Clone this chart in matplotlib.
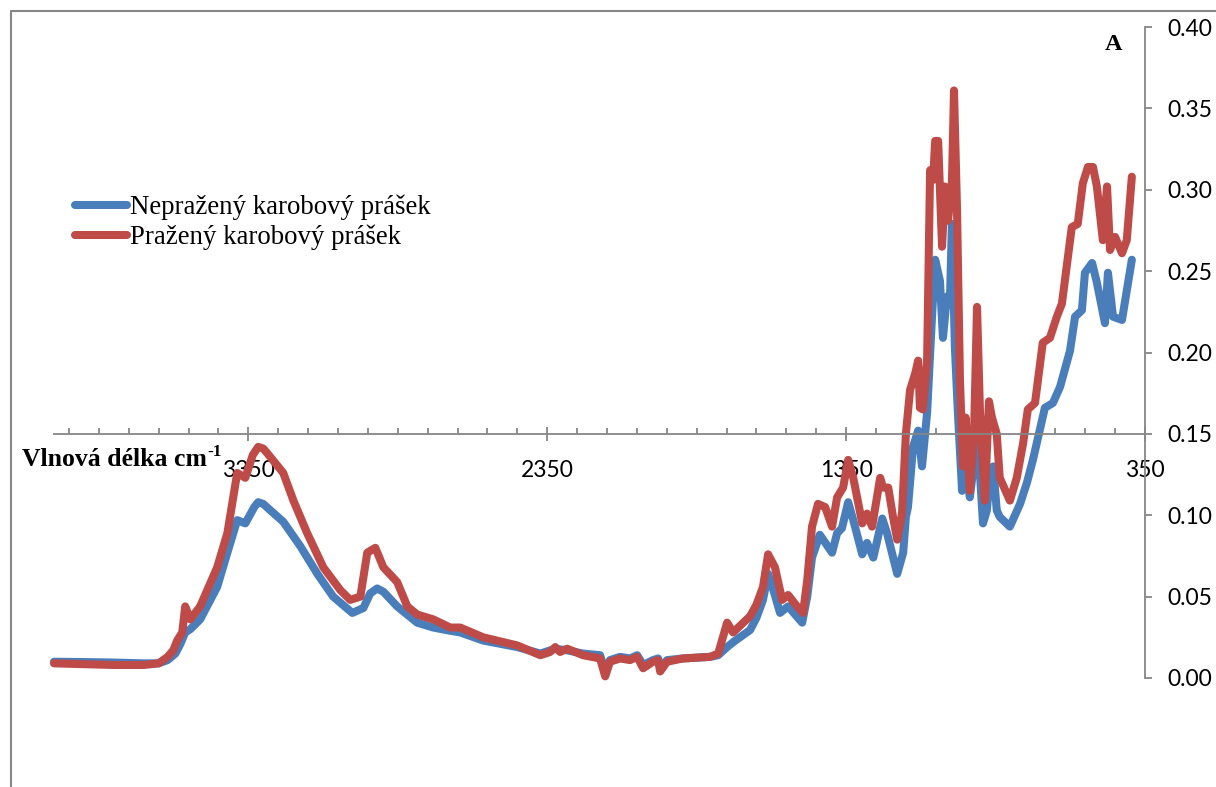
import matplotlib
matplotlib.use("Agg")
import matplotlib.pyplot as plt
import numpy as np
from matplotlib.lines import Line2D
from matplotlib.ticker import FixedLocator, FormatStrFormatter

# FTIR spectra (wavenumber cm-1, absorbance)
wn_raw = [4000, 3900, 3800, 3700, 3650, 3620, 3594, 3577, 3561, 3544, 3511, 3454,
          3420, 3387, 3360, 3330, 3317, 3300, 3276, 3233, 3176, 3119, 3066, 3002, 2965, 2942,
          2919, 2898, 2852, 2785, 2731, 2674, 2641, 2564, 2450, 2373, 2323, 2283,
          2230, 2173, 2156, 2140, 2106, 2073, 2049, 2029, 1996, 1979, 1972, 1949,
          1896, 1805, 1778, 1748, 1728, 1671, 1650, 1628, 1611, 1590, 1571, 1544,
          1497, 1480, 1464, 1438, 1397, 1380, 1364, 1343, 1326, 1296, 1280, 1259,
          1229, 1213, 1179, 1159, 1150, 1143, 1126, 1109, 1096, 1079, 1062, 1052,
          1036, 1026, 1013, 1002, 996, 986, 976, 962, 952, 936, 926, 912, 902,
          892, 879, 869, 858, 846, 836, 802, 768, 745, 725, 685, 658, 634, 601,
          584, 561, 551, 527, 511, 484, 474, 457, 427, 411, 394]
a_raw = [0.010, 0.0098, 0.0095, 0.009, 0.009, 0.011, 0.015, 0.021, 0.028, 0.030, 0.036, 0.056,
         0.077, 0.097, 0.095, 0.105, 0.108, 0.107, 0.103, 0.096, 0.081, 0.064, 0.050, 0.040, 0.043, 0.052,
         0.055, 0.053, 0.044, 0.034, 0.031, 0.029, 0.028, 0.023, 0.019, 0.015, 0.018, 0.017,
         0.015, 0.014, 0.004, 0.011, 0.013, 0.012, 0.014, 0.008, 0.011, 0.012, 0.006, 0.011,
         0.012, 0.013, 0.014, 0.019, 0.022, 0.0295, 0.037, 0.048, 0.064, 0.052, 0.040, 0.044,
         0.034, 0.050, 0.074, 0.088, 0.077, 0.089, 0.092, 0.108, 0.097, 0.076, 0.083, 0.074,
         0.098, 0.089, 0.064, 0.077, 0.099, 0.105, 0.142, 0.152, 0.130, 0.163, 0.224, 0.257,
         0.244, 0.209, 0.234, 0.236, 0.279, 0.203, 0.163, 0.115, 0.134, 0.111, 0.126, 0.180, 0.125,
         0.095, 0.103, 0.125, 0.130, 0.103, 0.099, 0.093, 0.107, 0.120, 0.134, 0.166, 0.169, 0.179, 0.201,
         0.222, 0.226, 0.249, 0.255, 0.243, 0.218, 0.249, 0.222, 0.220, 0.238, 0.257]

wn_roast = [4000, 3900, 3800, 3700, 3650, 3620, 3601, 3588, 3571, 3561, 3544, 3511,
            3454, 3420, 3387, 3360, 3335, 3317, 3300, 3286, 3233, 3199, 3153, 3099, 3042, 3009,
            2975, 2952, 2925, 2898, 2852, 2818, 2785, 2731, 2674, 2641, 2564, 2450,
            2373, 2340, 2323, 2307, 2283, 2230, 2173, 2156, 2140, 2106, 2073, 2049,
            2029, 1996, 1979, 1972, 1949, 1896, 1805, 1778, 1748, 1728, 1671, 1650,
            1628, 1611, 1588, 1564, 1544, 1514, 1494, 1480, 1464, 1444, 1420, 1397,
            1380, 1360, 1343, 1326, 1296, 1280, 1263, 1236, 1226, 1209, 1193, 1179,
            1163, 1150, 1136, 1119, 1109, 1103, 1093, 1079, 1069, 1059, 1052, 1042,
            1029, 1019, 1009, 996, 989, 979, 969, 959, 950, 936, 922, 912, 902, 886,
            872, 862, 846, 836, 802, 779, 758, 742, 718, 692, 668, 645, 628, 595,
            575, 558, 541, 524, 511, 491, 477, 467, 450, 427, 411, 394]
a_roast = [0.009, 0.0085, 0.008, 0.008, 0.009, 0.013, 0.017, 0.023, 0.028, 0.044, 0.036, 0.044,
           0.068, 0.089, 0.126, 0.123, 0.137, 0.142, 0.141, 0.138, 0.126, 0.109, 0.089, 0.068, 0.054, 0.048,
           0.050, 0.077, 0.080, 0.068, 0.059, 0.044, 0.039, 0.036, 0.031, 0.031, 0.025, 0.020,
           0.014, 0.016, 0.019, 0.016, 0.018, 0.014, 0.012, 0.001, 0.010, 0.012, 0.011, 0.013,
           0.006, 0.010, 0.011, 0.004, 0.010, 0.012, 0.013, 0.015, 0.034, 0.028, 0.038, 0.045,
           0.056, 0.076, 0.068, 0.048, 0.051, 0.044, 0.040, 0.060, 0.093, 0.107, 0.105, 0.093,
           0.111, 0.117, 0.134, 0.123, 0.095, 0.101, 0.093, 0.123, 0.117, 0.117, 0.099, 0.085,
           0.101, 0.150, 0.177, 0.187, 0.195, 0.166, 0.165, 0.195, 0.312, 0.306, 0.330, 0.330,
           0.265, 0.302, 0.281, 0.304, 0.361, 0.289, 0.183, 0.130, 0.160, 0.115, 0.150, 0.228, 0.163, 0.109,
           0.170, 0.160, 0.150, 0.123, 0.109, 0.123, 0.144, 0.165, 0.169, 0.206, 0.209, 0.222, 0.230, 0.277,
           0.279, 0.304, 0.314, 0.314, 0.302, 0.269, 0.302, 0.263, 0.271, 0.261, 0.269, 0.308]

x_major = [3350, 2350, 1350, 350]
y_ticks = [0.00, 0.05, 0.10, 0.15, 0.20, 0.25, 0.30, 0.35, 0.40]
labels = ["Nepražený karobový prášek", "Pražený karobový prášek"]
colors = ["#4A7EBB", "#BE4B48"]
grey = "#868686"

fig = plt.figure(figsize=(12.16, 7.87), dpi=100)
ax = fig.add_axes([54 / 1216, 1 - 678 / 787, 1091 / 1216, 651 / 787])

lw = 5.8
ax.plot(wn_raw, a_raw, color=colors[0], lw=lw, solid_capstyle="round",
        solid_joinstyle="round", label=labels[0], clip_on=False)
ax.plot(wn_roast, a_roast, color=colors[1], lw=lw, solid_capstyle="round",
        solid_joinstyle="round", label=labels[1], clip_on=False)

ax.set_xlim(4000, 350)
ax.set_ylim(0, 0.40)

# axis crossing: category axis sits at A = 0.15, value axis on the right
for s in ("top", "left"):
    ax.spines[s].set_visible(False)
ax.spines["bottom"].set_position(("data", 0.15))
ax.spines["bottom"].set_color(grey)
ax.spines["right"].set_color(grey)
ax.spines["bottom"].set_linewidth(1.3)
ax.spines["right"].set_linewidth(1.3)

ax.xaxis.set_major_locator(FixedLocator(x_major))
ax.xaxis.set_minor_locator(FixedLocator(np.arange(450, 4000, 100)))
ax.tick_params(axis="x", which="major", direction="inout", length=10, width=1.3,
               color=grey, pad=14, labelsize=16.5, labelfontfamily="Lato")
ax.tick_params(axis="x", which="minor", direction="in", length=4, width=1.3, color=grey)

ax.yaxis.tick_right()
ax.set_yticks(y_ticks)
ax.yaxis.set_major_formatter(FormatStrFormatter("%.2f"))
ax.tick_params(axis="y", direction="out", length=5, width=1.3, color=grey, pad=11,
               labelsize=16.5, labelfontfamily="Lato")

leg = ax.legend(loc="upper left", bbox_to_anchor=(75 / 1216, 1 - 195 / 787),
                bbox_transform=fig.transFigure, frameon=False,
                prop={"family": "Liberation Serif", "size": 19.3},
                handlelength=1.95, handletextpad=0.12, labelspacing=0.15,
                borderpad=0, borderaxespad=0)

# axis title with a hyphen superscript placed right after the text
lbl = fig.text(22 / 1216, 1 - 466 / 787, "Vlnová délka cm",
               fontfamily="Liberation Serif", fontweight="bold", fontsize=18.5,
               ha="left", va="baseline")
fig.canvas.draw()
bb = lbl.get_window_extent()
fig.text(bb.x1 / 1216 + 0.5 / 1216, 1 - 456 / 787, "-1",
         fontfamily="Liberation Serif", fontweight="bold", fontsize=12.5,
         ha="left", va="baseline")

fig.text(1114 / 1216, 1 - 45 / 787, "A", fontfamily="Liberation Serif",
         fontweight="bold", fontsize=17.5, ha="center", va="center")

# outer chart border (left and top edges)
fig.add_artist(Line2D([11 / 1216, 11 / 1216, 1.0], [0.0, 1 - 11 / 787, 1 - 11 / 787],
                      transform=fig.transFigure, color=grey, lw=1.5))

fig.savefig("out.png", dpi=100)
